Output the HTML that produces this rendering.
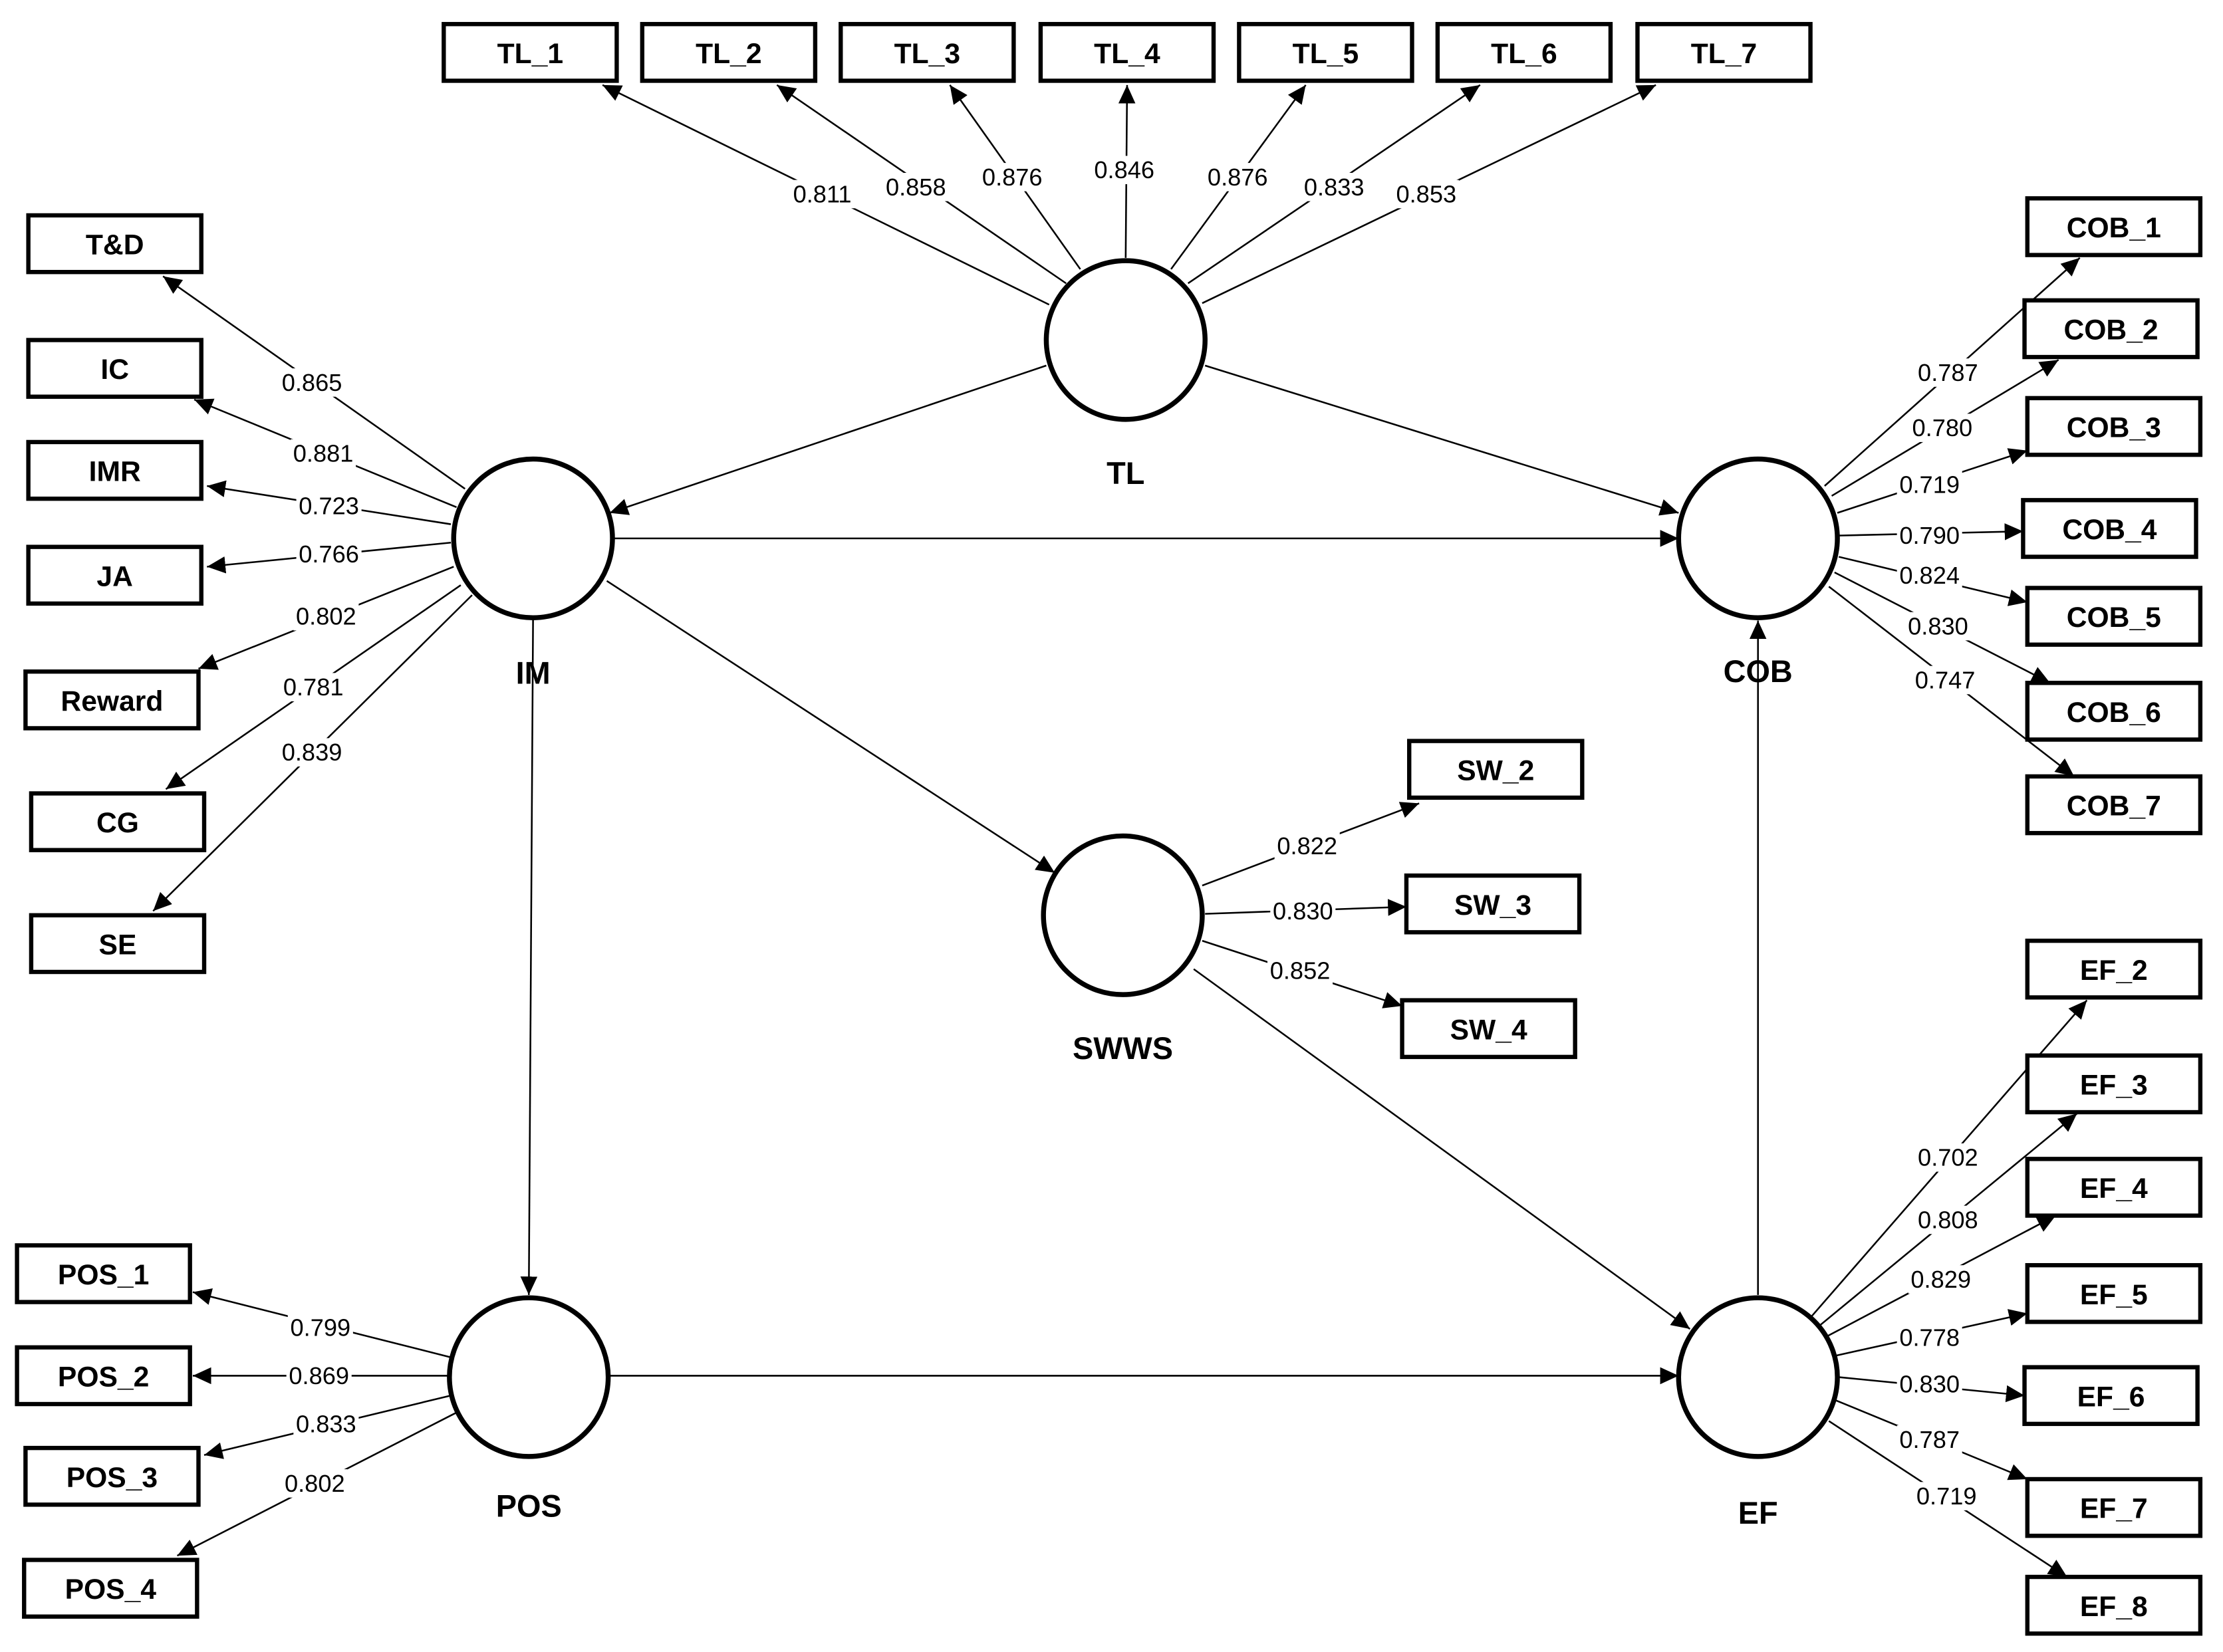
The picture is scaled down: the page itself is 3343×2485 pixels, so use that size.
<!DOCTYPE html>
<html><head><meta charset="utf-8"><style>
html,body{margin:0;padding:0;background:#fff}
svg{display:block}
.b{fill:#fff;stroke:#000;stroke-width:3}
.bt{font-family:"Liberation Sans",sans-serif;font-weight:bold;font-size:20px;text-anchor:middle;dominant-baseline:central}
.c{fill:#fff;stroke:#000;stroke-width:3.5}
.ct{font-family:"Liberation Sans",sans-serif;font-weight:bold;font-size:22px;text-anchor:middle;dominant-baseline:central}
.l{stroke:#000;stroke-width:1.2;fill:none;marker-end:url(#a)}
.lt{font-family:"Liberation Sans",sans-serif;font-size:17px;text-anchor:middle;dominant-baseline:central}
.lb{fill:#fff}
</style></head><body>
<svg width="3343" height="2485" viewBox="0 0 1568 1166" preserveAspectRatio="none" xmlns="http://www.w3.org/2000/svg">
<defs><marker id="a" markerUnits="userSpaceOnUse" markerWidth="14" markerHeight="14" refX="13" refY="6" orient="auto"><path d="M0,0 L13,6 L0,12 z" fill="#000"/></marker></defs>
<g id="lines">
<!-- structural -->
<line class="l" x1="738" y1="258" x2="430" y2="362"/>
<line class="l" x1="850" y1="258" x2="1184" y2="362"/>
<line class="l" x1="432" y1="380" x2="1184" y2="380"/>
<line class="l" x1="428" y1="410" x2="744" y2="616"/>
<line class="l" x1="376" y1="436" x2="373" y2="914"/>
<line class="l" x1="842" y1="684" x2="1192" y2="938"/>
<line class="l" x1="430" y1="971" x2="1184" y2="971"/>
<line class="l" x1="1240" y1="914" x2="1240" y2="438"/>
<!-- TL -->
<line class="l" x1="740" y1="215" x2="425" y2="60"/>
<line class="l" x1="752" y1="200" x2="548" y2="60"/>
<line class="l" x1="762" y1="190" x2="670" y2="60"/>
<line class="l" x1="794" y1="182" x2="795" y2="60"/>
<line class="l" x1="826" y1="190" x2="921" y2="60"/>
<line class="l" x1="838" y1="200" x2="1044" y2="60"/>
<line class="l" x1="848" y1="214" x2="1168" y2="60"/>
<!-- IM -->
<line class="l" x1="328" y1="345" x2="115" y2="195"/>
<line class="l" x1="322" y1="358" x2="137" y2="282"/>
<line class="l" x1="318" y1="370" x2="146" y2="343"/>
<line class="l" x1="318" y1="383" x2="146" y2="400"/>
<line class="l" x1="320" y1="400" x2="140" y2="472"/>
<line class="l" x1="325" y1="413" x2="117" y2="557"/>
<line class="l" x1="333" y1="420" x2="108" y2="643"/>
<!-- COB -->
<line class="l" x1="1287" y1="343" x2="1467" y2="182"/>
<line class="l" x1="1292" y1="350" x2="1452" y2="254"/>
<line class="l" x1="1296" y1="362" x2="1430" y2="318"/>
<line class="l" x1="1297" y1="378" x2="1427" y2="375"/>
<line class="l" x1="1297" y1="393" x2="1430" y2="425"/>
<line class="l" x1="1294" y1="404" x2="1446" y2="482"/>
<line class="l" x1="1290" y1="414" x2="1463" y2="548"/>
<!-- SW -->
<line class="l" x1="848" y1="625" x2="1001" y2="567"/>
<line class="l" x1="850" y1="645" x2="992" y2="640"/>
<line class="l" x1="848" y1="664" x2="989" y2="710"/>
<!-- EF -->
<line class="l" x1="1277" y1="930" x2="1472" y2="706"/>
<line class="l" x1="1283" y1="936" x2="1465" y2="786"/>
<line class="l" x1="1289" y1="943" x2="1450" y2="858"/>
<line class="l" x1="1294" y1="957" x2="1430" y2="927"/>
<line class="l" x1="1297" y1="972" x2="1428" y2="985"/>
<line class="l" x1="1294" y1="988" x2="1430" y2="1044"/>
<line class="l" x1="1290" y1="1003" x2="1458" y2="1113"/>
<!-- POS -->
<line class="l" x1="318" y1="958" x2="136" y2="912"/>
<line class="l" x1="318" y1="971" x2="136" y2="971"/>
<line class="l" x1="318" y1="985" x2="144" y2="1027"/>
<line class="l" x1="322" y1="997" x2="125" y2="1098"/>
</g>
<g id="labels">
<g class="lbls">
</g>
</g>
<g>
<!-- label backgrounds and text -->
<g fill="#fff">
<rect x="557" y="127" width="46" height="20"/><rect x="623" y="122" width="46" height="20"/><rect x="691" y="115" width="46" height="20"/><rect x="770" y="110" width="46" height="20"/><rect x="850" y="115" width="46" height="20"/><rect x="918" y="122" width="46" height="20"/><rect x="983" y="127" width="46" height="20"/>
<rect x="197" y="260" width="46" height="20"/><rect x="205" y="310" width="46" height="20"/><rect x="209" y="347" width="46" height="20"/><rect x="209" y="381" width="46" height="20"/><rect x="207" y="425" width="46" height="20"/><rect x="198" y="475" width="46" height="20"/><rect x="197" y="521" width="46" height="20"/>
<rect x="1351" y="253" width="46" height="20"/><rect x="1347" y="292" width="46" height="20"/><rect x="1338" y="332" width="46" height="20"/><rect x="1338" y="368" width="46" height="20"/><rect x="1338" y="396" width="46" height="20"/><rect x="1344" y="432" width="46" height="20"/><rect x="1349" y="470" width="46" height="20"/>
<rect x="899" y="587" width="46" height="20"/><rect x="896" y="633" width="46" height="20"/><rect x="894" y="675" width="46" height="20"/>
<rect x="1351" y="807" width="46" height="20"/><rect x="1351" y="851" width="46" height="20"/><rect x="1346" y="893" width="46" height="20"/><rect x="1338" y="934" width="46" height="20"/><rect x="1338" y="967" width="46" height="20"/><rect x="1338" y="1006" width="46" height="20"/><rect x="1350" y="1046" width="46" height="20"/>
<rect x="203" y="927" width="46" height="20"/><rect x="202" y="961" width="46" height="20"/><rect x="207" y="995" width="46" height="20"/><rect x="199" y="1037" width="46" height="20"/>
</g>
<g class="lt">
<text class="lt" x="580" y="137">0.811</text><text class="lt" x="646" y="132">0.858</text><text class="lt" x="714" y="125">0.876</text><text class="lt" x="793" y="120">0.846</text><text class="lt" x="873" y="125">0.876</text><text class="lt" x="941" y="132">0.833</text><text class="lt" x="1006" y="137">0.853</text>
<text class="lt" x="220" y="270">0.865</text><text class="lt" x="228" y="320">0.881</text><text class="lt" x="232" y="357">0.723</text><text class="lt" x="232" y="391">0.766</text><text class="lt" x="230" y="435">0.802</text><text class="lt" x="221" y="485">0.781</text><text class="lt" x="220" y="531">0.839</text>
<text class="lt" x="1374" y="263">0.787</text><text class="lt" x="1370" y="302">0.780</text><text class="lt" x="1361" y="342">0.719</text><text class="lt" x="1361" y="378">0.790</text><text class="lt" x="1361" y="406">0.824</text><text class="lt" x="1367" y="442">0.830</text><text class="lt" x="1372" y="480">0.747</text>
<text class="lt" x="922" y="597">0.822</text><text class="lt" x="919" y="643">0.830</text><text class="lt" x="917" y="685">0.852</text>
<text class="lt" x="1374" y="817">0.702</text><text class="lt" x="1374" y="861">0.808</text><text class="lt" x="1369" y="903">0.829</text><text class="lt" x="1361" y="944">0.778</text><text class="lt" x="1361" y="977">0.830</text><text class="lt" x="1361" y="1016">0.787</text><text class="lt" x="1373" y="1056">0.719</text>
<text class="lt" x="226" y="937">0.799</text><text class="lt" x="225" y="971">0.869</text><text class="lt" x="230" y="1005">0.833</text><text class="lt" x="222" y="1047">0.802</text>
</g>
</g>
<!-- circles -->
<circle class="c" cx="794" cy="240" r="56"/><circle class="c" cx="376" cy="380" r="56"/><circle class="c" cx="1240" cy="380" r="56"/><circle class="c" cx="792" cy="646" r="56"/><circle class="c" cx="373" cy="972" r="56"/><circle class="c" cx="1240" cy="972" r="56"/>
<text class="ct" x="794" y="334">TL</text><text class="ct" x="376" y="475">IM</text><text class="ct" x="1240" y="474">COB</text><text class="ct" x="792" y="740">SWWS</text><text class="ct" x="373" y="1063">POS</text><text class="ct" x="1240" y="1068">EF</text>
<!-- boxes -->
<g>
<rect class="b" x="313" y="17" width="122" height="40"/><text class="bt" x="374" y="38">TL_1</text>
<rect class="b" x="453" y="17" width="122" height="40"/><text class="bt" x="514" y="38">TL_2</text>
<rect class="b" x="593" y="17" width="122" height="40"/><text class="bt" x="654" y="38">TL_3</text>
<rect class="b" x="734" y="17" width="122" height="40"/><text class="bt" x="795" y="38">TL_4</text>
<rect class="b" x="874" y="17" width="122" height="40"/><text class="bt" x="935" y="38">TL_5</text>
<rect class="b" x="1014" y="17" width="122" height="40"/><text class="bt" x="1075" y="38">TL_6</text>
<rect class="b" x="1155" y="17" width="122" height="40"/><text class="bt" x="1216" y="38">TL_7</text>
<rect class="b" x="20" y="152" width="122" height="40"/><text class="bt" x="81" y="173">T&amp;D</text>
<rect class="b" x="20" y="240" width="122" height="40"/><text class="bt" x="81" y="261">IC</text>
<rect class="b" x="20" y="312" width="122" height="40"/><text class="bt" x="81" y="333">IMR</text>
<rect class="b" x="20" y="386" width="122" height="40"/><text class="bt" x="81" y="407">JA</text>
<rect class="b" x="18" y="474" width="122" height="40"/><text class="bt" x="79" y="495">Reward</text>
<rect class="b" x="22" y="560" width="122" height="40"/><text class="bt" x="83" y="581">CG</text>
<rect class="b" x="22" y="646" width="122" height="40"/><text class="bt" x="83" y="667">SE</text>
<rect class="b" x="1430" y="140" width="122" height="40"/><text class="bt" x="1491" y="161">COB_1</text>
<rect class="b" x="1428" y="212" width="122" height="40"/><text class="bt" x="1489" y="233">COB_2</text>
<rect class="b" x="1430" y="281" width="122" height="40"/><text class="bt" x="1491" y="302">COB_3</text>
<rect class="b" x="1427" y="353" width="122" height="40"/><text class="bt" x="1488" y="374">COB_4</text>
<rect class="b" x="1430" y="415" width="122" height="40"/><text class="bt" x="1491" y="436">COB_5</text>
<rect class="b" x="1430" y="482" width="122" height="40"/><text class="bt" x="1491" y="503">COB_6</text>
<rect class="b" x="1430" y="548" width="122" height="40"/><text class="bt" x="1491" y="569">COB_7</text>
<rect class="b" x="994" y="523" width="122" height="40"/><text class="bt" x="1055" y="544">SW_2</text>
<rect class="b" x="992" y="618" width="122" height="40"/><text class="bt" x="1053" y="639">SW_3</text>
<rect class="b" x="989" y="706" width="122" height="40"/><text class="bt" x="1050" y="727">SW_4</text>
<rect class="b" x="1430" y="664" width="122" height="40"/><text class="bt" x="1491" y="685">EF_2</text>
<rect class="b" x="1430" y="745" width="122" height="40"/><text class="bt" x="1491" y="766">EF_3</text>
<rect class="b" x="1430" y="818" width="122" height="40"/><text class="bt" x="1491" y="839">EF_4</text>
<rect class="b" x="1430" y="893" width="122" height="40"/><text class="bt" x="1491" y="914">EF_5</text>
<rect class="b" x="1428" y="965" width="122" height="40"/><text class="bt" x="1489" y="986">EF_6</text>
<rect class="b" x="1430" y="1044" width="122" height="40"/><text class="bt" x="1491" y="1065">EF_7</text>
<rect class="b" x="1430" y="1113" width="122" height="40"/><text class="bt" x="1491" y="1134">EF_8</text>
<rect class="b" x="12" y="879" width="122" height="40"/><text class="bt" x="73" y="900">POS_1</text>
<rect class="b" x="12" y="951" width="122" height="40"/><text class="bt" x="73" y="972">POS_2</text>
<rect class="b" x="18" y="1022" width="122" height="40"/><text class="bt" x="79" y="1043">POS_3</text>
<rect class="b" x="17" y="1101" width="122" height="40"/><text class="bt" x="78" y="1122">POS_4</text>
</g>
</svg>
</body></html>
